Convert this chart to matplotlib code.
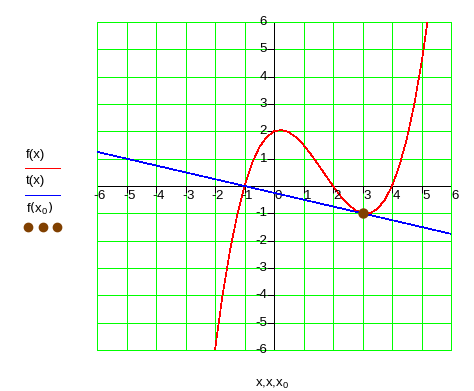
import matplotlib
matplotlib.use("Agg")
import matplotlib.pyplot as plt
from matplotlib.lines import Line2D

plt.rcParams['font.family'] = ['Liberation Sans', 'DejaVu Sans']

# data
f_x = [-2.25, -2.0, -1.75, -1.5, -1.25, -1.0, -0.75, -0.5, -0.25, 0.0, 0.25, 0.5, 0.75,
       1.0, 1.25, 1.5, 1.75, 2.0, 2.25, 2.5, 2.75, 3.0, 3.25, 3.5, 3.75, 4.0, 4.25,
       4.5, 4.75, 5.0, 5.25]
f_y = [-8.30, -6.0, -4.04, -2.41, -1.07, 0.0, 0.82, 1.41, 1.79, 2.0, 2.05, 1.97, 1.78,
       1.5, 1.16, 0.78, 0.39, 0.0, -0.36, -0.66, -0.88, -1.0, -1.0, -0.84, -0.52, 0.0, 0.74,
       1.72, 2.96, 4.5, 6.35]
t_x = [-6.0, 6.0]
t_y = [1.25, -1.75]
x0 = [3.0]
fx0 = [-1.0]
ticks = [-6, -5, -4, -3, -2, -1, 0, 1, 2, 3, 4, 5, 6]

W, H = 474, 391
fig = plt.figure(figsize=(W / 100, H / 100), dpi=100)
ax = fig.add_axes([97 / W, 41 / H, 354 / W, 328 / H])

GREEN = '#00ff00'
lw = 0.72
clw = 0.5
ax.set_xlim(-6, 6)
ax.set_ylim(-6, 6)
ax.set_xticks(ticks)
ax.set_yticks(ticks)
ax.grid(True, color=GREEN, linewidth=lw, antialiased=False)
ax.tick_params(length=0, labelbottom=False, labelleft=False)
for s in ax.spines.values():
    s.set_color(GREEN)
    s.set_linewidth(lw)
    s.set_antialiased(False)
ax.set_axisbelow(True)

ax.axhline(0, color='black', linewidth=lw, zorder=2, antialiased=False)
ax.axvline(0, color='black', linewidth=lw, zorder=2, antialiased=False)
ax.plot(ticks, [0] * len(ticks), linestyle='none', marker=3, markersize=5,
        markeredgewidth=lw, color='black', zorder=2, antialiased=False)
ax.plot([0] * len(ticks), ticks, linestyle='none', marker=0, markersize=5,
        markeredgewidth=lw, color='black', zorder=2, antialiased=False)

ax.plot(f_x, f_y, color='red', linewidth=clw, zorder=3, antialiased=False)
ax.plot(t_x, t_y, color='blue', linewidth=clw, zorder=4, antialiased=False)
ax.plot(x0, fx0, linestyle='none', marker='o', markersize=6.5,
        color='#804000', zorder=5)

fs = 9.5
for t in ticks:
    # x labels: digit starts at tick, minus to the left
    ax.annotate(str(abs(t)), (t, 0), xytext=(0.5, -4), textcoords='offset pixels',
                ha='left', va='top', fontsize=fs, annotation_clip=False)
    if t < 0:
        ax.annotate('-', (t, 0), xytext=(1, -4), textcoords='offset pixels',
                    ha='right', va='top', fontsize=fs, annotation_clip=False)
    if t != 0:
        ax.annotate(str(t), (0, t), xytext=(-7, 0), textcoords='offset pixels',
                    ha='right', va='center', fontsize=fs, annotation_clip=False)

# legend (Mathcad style)
def fx(px):
    return px / W

def fy(py):
    return 1 - py / H

fig.text(fx(26), fy(155), 'f(x)', fontsize=9.5, va='center', ha='left')
fig.add_artist(Line2D([fx(25), fx(60)], [fy(168), fy(168)], color='red', linewidth=lw,
                      transform=fig.transFigure, antialiased=False))
fig.text(fx(26), fy(181), 't(x)', fontsize=9.5, va='center', ha='left')
fig.add_artist(Line2D([fx(25), fx(60)], [fy(195), fy(195)], color='blue', linewidth=lw,
                      transform=fig.transFigure, antialiased=False))
fig.text(fx(26), fy(209), r'f$\left(\mathregular{x_0}\right)$', fontsize=9.5,
         va='center', ha='left')
fig.add_artist(Line2D([fx(28), fx(42.5), fx(57)], [fy(227)] * 3, linestyle='none',
                      marker='o', markersize=6, color='#804000',
                      transform=fig.transFigure))

fig.text(fx(255), fy(384), r'x,x,x$_\mathregular{0}$', fontsize=9.5, va='center', ha='left')

fig.savefig('out.png', dpi=100, facecolor='white')
